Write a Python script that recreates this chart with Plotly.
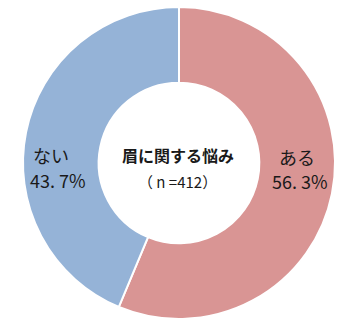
import plotly.graph_objects as go

categories = ["ある", "ない"]
values = [56.3, 43.7]
value_labels = ["56. 3%", "43. 7%"]
center_title = "眉に関する悩み"
center_n = "（ n =412）"
colors = ["#D99594", "#95B3D7"]

W, H = 356, 329

fig = go.Figure(go.Pie(
    labels=categories,
    values=values,
    hole=0.515,
    sort=False,
    direction="clockwise",
    rotation=0,
    marker=dict(colors=colors, line=dict(color="white", width=2)),
    textinfo="none",
    hoverinfo="label+percent",
    showlegend=False,
    domain=dict(x=[23/W, 335/W], y=[9/H, 323/H]),
))

def px(x, y):
    return x / W, 1 - y / H

font = dict(family="Noto Sans CJK JP", color="#1a1a1a")
anns = []
pos = {"ある": ((297, 157), (300, 181)), "ない": ((51, 155), (58, 180))}
for c, v in zip(categories, value_labels):
    (x1, y1), (x2, y2) = pos[c]
    for (xx, yy), t in (((x1, y1), c), ((x2, y2), v)):
        x, y = px(xx, yy)
        anns.append(dict(x=x, y=y, xref="paper", yref="paper", showarrow=False,
                         xanchor="center", yanchor="middle",
                         text=t, font=dict(size=18, **font)))
for (xx, yy), t, s in (((178, 155), f"<b>{center_title}</b>", 16), ((177, 181), center_n, 15)):
    x, y = px(xx, yy)
    anns.append(dict(x=x, y=y, xref="paper", yref="paper", showarrow=False,
                     xanchor="center", yanchor="middle",
                     text=t, font=dict(size=s, **font)))

fig.update_layout(
    width=W, height=H,
    margin=dict(l=0, r=0, t=0, b=0),
    paper_bgcolor="white",
    annotations=anns,
)
fig.write_html("out.html")
